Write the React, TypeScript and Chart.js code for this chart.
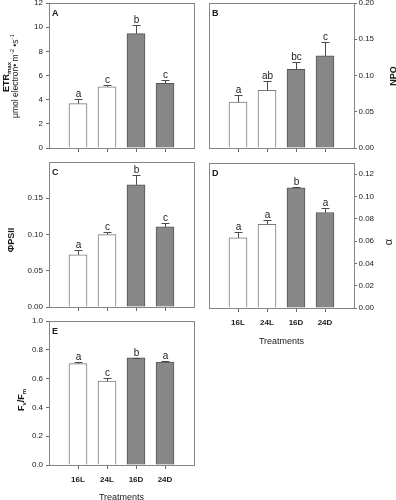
import React, { useEffect, useRef } from 'react';
import { Chart, registerables } from 'chart.js';

Chart.register(...registerables);

// ---------- data ----------
const treatments = ['16L', '24L', '16D', '24D'];

const etrMax = [3.67, 5.07, 9.46, 5.35];
const etrMaxErr = [0.36, 0.13, 0.74, 0.25];
const etrMaxSig = ['a', 'c', 'b', 'c'];
const etrMaxTicks = [0, 2, 4, 6, 8, 10, 12];

const npq = [0.0634, 0.0796, 0.1085, 0.127];
const npqErr = [0.01, 0.0134, 0.0105, 0.019];
const npqSig = ['a', 'ab', 'bc', 'c'];
const npqTicks = [0, 0.05, 0.1, 0.15, 0.2];

const phiPSII = [0.072, 0.0999, 0.1685, 0.1105];
const phiPSIIErr = [0.007, 0.0037, 0.0135, 0.0055];
const phiPSIISig = ['a', 'c', 'b', 'c'];
const phiPSIITicks = [0, 0.05, 0.1, 0.15];

const alpha = [0.0628, 0.0751, 0.1077, 0.0856];
const alphaErr = [0.0052, 0.0036, 0.0009, 0.0042];
const alphaSig = ['a', 'a', 'b', 'a'];
const alphaTicks = [0, 0.02, 0.04, 0.06, 0.08, 0.1, 0.12];

const fvFm = [0.704, 0.582, 0.744, 0.714];
const fvFmErr = [0.014, 0.023, 0.002, 0.009];
const fvFmSig = ['a', 'c', 'b', 'a'];
const fvFmTicks = [0, 0.2, 0.4, 0.6, 0.8, 1.0];

const xTitle = 'Treatments';

// ---------- styling ----------
const FONT = '"Liberation Sans", Arial, Helvetica, sans-serif';
const W = 396;
const H = 500;
const FRAME = '#858585';
const TICK = '#6a6a6a';
const TEXT = '#1a1a1a';
const LIGHT_FILL = '#ffffff';
const LIGHT_EDGE = '#7a7a7a';
const DARK_FILL = '#878787';
const DARK_EDGE = '#555555';
const ERR = '#4a4a4a';

const axisLabels = ['', ...treatments, ''];

type Seg = { t: string; size: number; bold?: boolean; shift?: number };
type TitleLine = { segs: Seg[]; x: number; y: number };
type Panel = {
  letter: string;
  values: number[];
  errs: number[];
  sig: string[];
  ticks: number[];
  max: number;
  decimals: number;
  side: 'left' | 'right';
  box: { l: number; r: number; t: number; b: number };
  titles: TitleLine[];
  showX: boolean;
  xTitleY?: number;
};

const panels: Panel[] = [
  {
    letter: 'A', values: etrMax, errs: etrMaxErr, sig: etrMaxSig, ticks: etrMaxTicks,
    max: 12, decimals: 0, side: 'left', box: { l: 49, r: 194, t: 3, b: 148 }, showX: false,
    titles: [
      { segs: [{ t: 'ETR', size: 9, bold: true }, { t: 'max', size: 6, bold: true, shift: 2 }], x: 8.5, y: 77 },
      {
        segs: [
          { t: 'μmol electron• m', size: 8.5 },
          { t: '-2', size: 6, shift: -3.5 },
          { t: ' •s', size: 8.5 },
          { t: '-1', size: 6, shift: -3.5 },
        ], x: 17.5, y: 76,
      },
    ],
  },
  {
    letter: 'B', values: npq, errs: npqErr, sig: npqSig, ticks: npqTicks,
    max: 0.2, decimals: 2, side: 'right', box: { l: 209, r: 354, t: 3, b: 148 }, showX: false,
    titles: [{ segs: [{ t: 'NPQ', size: 9, bold: true }], x: 395.5, y: 76 }],
  },
  {
    letter: 'C', values: phiPSII, errs: phiPSIIErr, sig: phiPSIISig, ticks: phiPSIITicks,
    max: 0.2, decimals: 2, side: 'left', box: { l: 49, r: 194, t: 162, b: 307 }, showX: false,
    titles: [{ segs: [{ t: 'ΦPSII', size: 9, bold: true }], x: 14, y: 240 }],
  },
  {
    letter: 'D', values: alpha, errs: alphaErr, sig: alphaSig, ticks: alphaTicks,
    max: 0.13, decimals: 2, side: 'right', box: { l: 209, r: 354, t: 163, b: 308 }, showX: true,
    xTitleY: 343.5,
    titles: [{ segs: [{ t: 'α', size: 11 }], x: 392, y: 242 }],
  },
  {
    letter: 'E', values: fvFm, errs: fvFmErr, sig: fvFmSig, ticks: fvFmTicks,
    max: 1.0, decimals: 1, side: 'left', box: { l: 49, r: 194, t: 321, b: 465 }, showX: true,
    xTitleY: 499.5,
    titles: [
      {
        segs: [
          { t: 'F', size: 9, bold: true },
          { t: 'v', size: 6, bold: true, shift: 2 },
          { t: '/F', size: 9, bold: true },
          { t: 'm', size: 6, bold: true, shift: 2 },
        ], x: 23.5, y: 400,
      },
    ],
  },
];

function fontStr(size: number, bold?: boolean) {
  return `${bold ? 'bold ' : ''}${size}px ${FONT}`;
}

function drawRotated(ctx: CanvasRenderingContext2D, line: TitleLine) {
  ctx.save();
  ctx.translate(line.x, line.y);
  ctx.rotate(-Math.PI / 2);
  ctx.textAlign = 'left';
  ctx.textBaseline = 'alphabetic';
  ctx.fillStyle = TEXT;
  const widths = line.segs.map((s) => {
    ctx.font = fontStr(s.size, s.bold);
    return ctx.measureText(s.t).width;
  });
  const total = widths.reduce((a, b) => a + b, 0);
  let x = -total / 2;
  line.segs.forEach((s, i) => {
    ctx.font = fontStr(s.size, s.bold);
    ctx.fillText(s.t, x, s.shift || 0);
    x += widths[i];
  });
  ctx.restore();
}

function makePlugin(p: Panel) {
  return {
    id: 'panelDecor',
    afterDraw(chart: any) {
      const ctx: CanvasRenderingContext2D = chart.ctx;
      const area = chart.chartArea;
      const ys = chart.scales.y;
      const xs = chart.scales.x;
      ctx.save();
      // frame
      ctx.strokeStyle = FRAME;
      ctx.lineWidth = 1;
      const l = Math.round(area.left) + 0.5;
      const r = Math.round(area.right) + 0.5;
      const t = Math.round(area.top) + 0.5;
      const b = Math.round(area.bottom) + 0.5;
      ctx.strokeRect(l, t, r - l, b - t);

      // error bars + significance letters
      p.values.forEach((v, k) => {
        const x = Math.round(xs.getPixelForValue(k + 1)) + 0.5;
        const yTop = ys.getPixelForValue(v);
        const yErr = Math.round(ys.getPixelForValue(v + p.errs[k])) + 0.5;
        ctx.strokeStyle = ERR;
        ctx.beginPath();
        ctx.moveTo(x, yTop);
        ctx.lineTo(x, yErr);
        ctx.moveTo(x - 4, yErr);
        ctx.lineTo(x + 4, yErr);
        ctx.stroke();
        ctx.fillStyle = TEXT;
        ctx.font = fontStr(10);
        ctx.textAlign = 'center';
        ctx.textBaseline = 'alphabetic';
        ctx.fillText(p.sig[k], x, yErr - 2.5);
      });

      // panel letter
      ctx.fillStyle = TEXT;
      ctx.font = fontStr(9, true);
      ctx.textAlign = 'left';
      ctx.textBaseline = 'alphabetic';
      ctx.fillText(p.letter, area.left + 3, area.top + 13);

      // x title
      if (p.xTitleY) {
        ctx.font = fontStr(9);
        ctx.textAlign = 'center';
        ctx.fillText(xTitle, (area.left + area.right) / 2, p.xTitleY);
      }
      ctx.restore();

      // y titles
      p.titles.forEach((line) => drawRotated(ctx, line));
    },
  };
}

function PanelChart({ p }: { p: Panel }) {
  const ref = useRef<HTMLCanvasElement>(null);
  useEffect(() => {
    if (!ref.current) return;
    const yAxisW = p.side === 'left' ? p.box.l : W - p.box.r;
    const xAxisH = 20;
    const padding = {
      left: p.side === 'left' ? 0 : p.box.l,
      right: p.side === 'left' ? W - p.box.r : 0,
      top: p.box.t,
      bottom: H - p.box.b - xAxisH,
    };
    const fills = ['rgba(0,0,0,0)', LIGHT_FILL, LIGHT_FILL, DARK_FILL, DARK_FILL, 'rgba(0,0,0,0)'];
    const edges = ['rgba(0,0,0,0)', LIGHT_EDGE, LIGHT_EDGE, DARK_EDGE, DARK_EDGE, 'rgba(0,0,0,0)'];
    const chart = new Chart(ref.current, {
      type: 'bar',
      data: {
        labels: axisLabels,
        datasets: [
          {
            data: [null, ...p.values, null] as any,
            backgroundColor: fills,
            borderColor: edges,
            borderWidth: 1,
            barThickness: 18,
          },
        ],
      },
      options: {
        responsive: false,
        animation: false,
        events: [],
        layout: { padding },
        plugins: {
          legend: { display: false },
          tooltip: { enabled: false },
          title: { display: false },
        },
        scales: {
          x: {
            type: 'category',
            offset: false,
            grid: {
              offset: false,
              display: true,
              drawOnChartArea: false,
              drawTicks: true,
              tickLength: 4,
              color: (c: any) =>
                c.index === 0 || c.index === axisLabels.length - 1 ? 'rgba(0,0,0,0)' : TICK,
            },
            border: { display: false },
            ticks: {
              display: p.showX,
              autoSkip: false,
              maxRotation: 0,
              minRotation: 0,
              padding: 6,
              color: TEXT,
              font: { family: FONT, size: 8, weight: 'bold' },
            },
            afterFit: (s: any) => {
              s.height = xAxisH;
              s.paddingLeft = 0;
              s.paddingRight = 0;
            },
          },
          y: {
            type: 'linear',
            position: p.side,
            min: 0,
            max: p.max,
            afterBuildTicks: (s: any) => {
              s.ticks = p.ticks.map((v) => ({ value: v }));
            },
            ticks: {
              padding: p.side === 'left' ? 3 : 1.5,
              color: TEXT,
              font: { family: FONT, size: 8 },
              callback: (v: any) => Number(v).toFixed(p.decimals),
            },
            grid: {
              display: true,
              drawOnChartArea: false,
              drawTicks: true,
              tickLength: 3,
              color: TICK,
            },
            border: { display: false },
            afterFit: (s: any) => {
              s.width = yAxisW;
              s.paddingTop = 0;
              s.paddingBottom = 0;
            },
          },
        },
      } as any,
      plugins: [makePlugin(p)],
    });
    return () => chart.destroy();
  }, [p]);
  return (
    <canvas
      ref={ref}
      width={W}
      height={H}
      style={{ position: 'absolute', left: 0, top: 0, width: W, height: H }}
    />
  );
}

export default function App() {
  return (
    <div
      style={{
        position: 'absolute',
        left: 0,
        top: 0,
        width: W,
        height: H,
        overflow: 'hidden',
        background: '#ffffff',
      }}
    >
      {panels.map((p) => (
        <PanelChart key={p.letter} p={p} />
      ))}
    </div>
  );
}
